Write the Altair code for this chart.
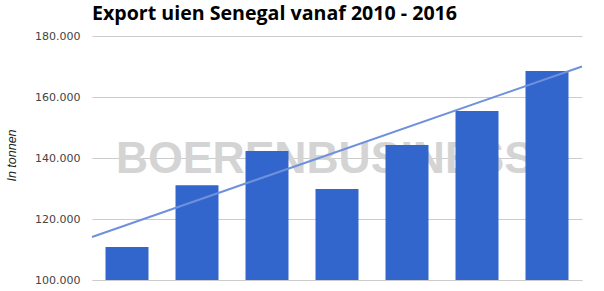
import altair as alt
import pandas as pd

years = ["2010", "2011", "2012", "2013", "2014", "2015", "2016"]
export_tonnes = [110800, 131100, 142300, 129800, 144300, 155400, 168500]
trend_x = [2009.5, 2016.5]
trend_values = [114100, 170000]
y_ticks = [100000, 120000, 140000, 160000, 180000]
watermark = ["BOERENBUSINESS"]

bars_df = pd.DataFrame({"year": years, "tonnes": export_tonnes})
trend_df = pd.DataFrame({"x": trend_x, "tonnes": trend_values})
wm_df = pd.DataFrame({"label": watermark})

yscale = alt.Scale(domain=[100000, 180000], nice=False, zero=False)

wm = alt.Chart(wm_df).mark_text(
    font="Liberation Sans", fontWeight="bold", fontSize=44.5, color="#d4d4d4",
    align="center", baseline="alphabetic"
).encode(text="label:N", x=alt.value(233), y=alt.value(137))

bars = alt.Chart(bars_df).mark_bar(color="#3366cc", clip=True).encode(
    x=alt.X("year:O", scale=alt.Scale(paddingInner=0.386, paddingOuter=0.193),
            axis=alt.Axis(labels=False, ticks=False, title=None, domain=True,
                          domainColor="#cccccc", domainWidth=1)),
    y=alt.Y("tonnes:Q", scale=yscale,
            axis=alt.Axis(values=y_ticks, title="In tonnen",
                          labelExpr="replace(format(datum.value, ',d'), ',', '.')",
                          labelFont="DejaVu Sans", labelFontSize=11, labelColor="#444444",
                          labelPadding=12, ticks=False, domain=False,
                          gridColor="#cccccc", gridWidth=1,
                          titleFont="Liberation Sans", titleFontStyle="italic",
                          titleFontWeight="normal", titleFontSize=12.5, titleColor="#222222",
                          titleX=-74, titleY=119, titleAlign="center")),
)

line = alt.Chart(trend_df).mark_line(color="#6f91dd", strokeWidth=2).encode(
    x=alt.X("x:Q", scale=alt.Scale(domain=[2009.5, 2016.5], nice=False, zero=False), axis=None),
    y=alt.Y("tonnes:Q", scale=yscale),
)

chart = alt.layer(wm, bars, line).resolve_scale(x="independent").properties(
    width=490, height=244,
    autosize=alt.AutoSizeParams(type="none"),
    padding={"left": 92, "top": 36, "right": 22, "bottom": 11},
    title=alt.TitleParams("Export uien Senegal vanaf 2010 - 2016", anchor="start",
                          frame="group", baseline="alphabetic", dy=23,
                          font="Open Sans", fontSize=19.6, fontWeight="bold", color="#000000",
                          offset=13),
).configure_view(stroke=None)

chart.save("out.html", embed_options={"renderer": "svg", "actions": False})
